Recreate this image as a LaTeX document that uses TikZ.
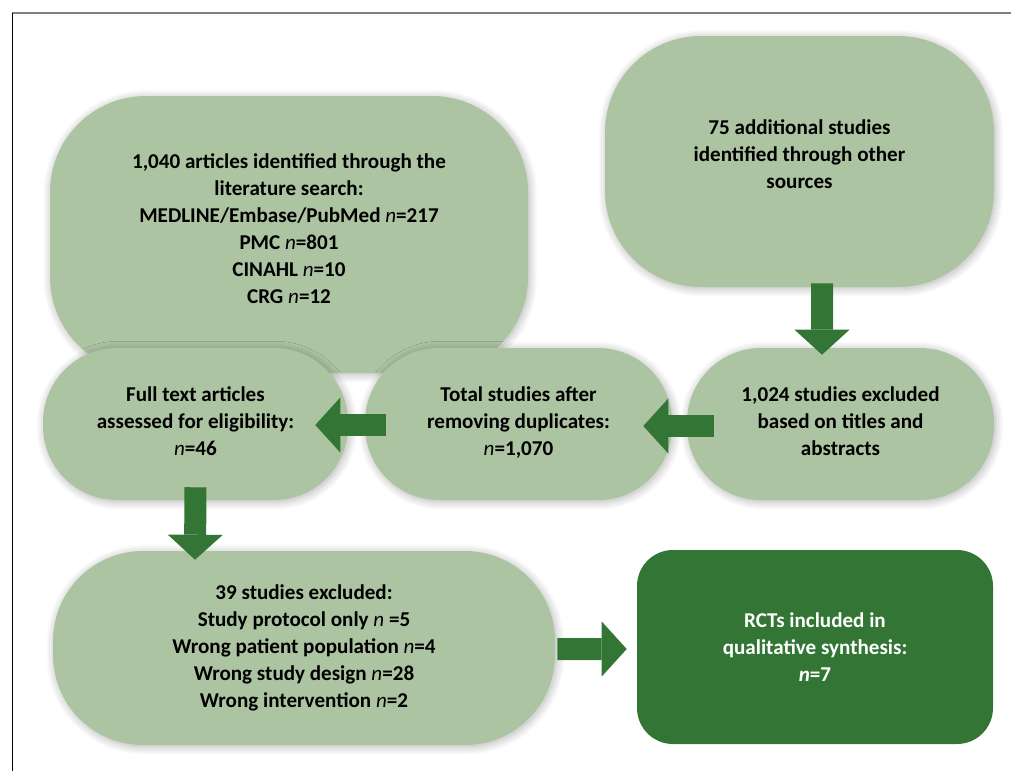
\documentclass[tikz,border=0pt]{standalone}
\usepackage{fontspec}
\setmainfont{Carlito}
\usetikzlibrary{positioning, arrows.meta, shadows.blur}
\definecolor{BoxGreen}{HTML}{ADC4A2}
\definecolor{DeepGreen}{HTML}{327534}
\definecolor{FrameGray}{HTML}{7F7F7F}
\newcommand{\nval}{\textit{\mdseries n}}

\begin{document}
\begin{tikzpicture}[
    flowbox/.style={rectangle, fill=BoxGreen, align=center, inner sep=0pt,
        font=\fontsize{15}{19.2}\selectfont\bfseries,
        blur shadow={shadow xshift=1pt, shadow yshift=-1.2pt, shadow blur radius=6pt,
          shadow blur steps=16, shadow opacity=30}},
    resultbox/.style={rectangle, fill=DeepGreen, text=white, align=center, inner sep=0pt,
        font=\fontsize{15}{19.2}\selectfont\bfseries, rounded corners=0.9cm},
    blockarrow/.style={DeepGreen, line width=0.55cm,
        -{Triangle[width=1.375cm, length=0.625cm, line width=0pt]}}
]
  \useasboundingbox (0,0) rectangle (25.275,-19.275);

  % Frame
  \draw[FrameGray, line width=1.2pt] (0.3,-0.325) -- (25.275,-0.325);
  \draw[black, line width=0.5pt] (0.3,-0.325) -- (0.3,-19.275);

  % Identification
  \node[flowbox, rounded corners=2.4cm, minimum width=11.95cm, minimum height=6.925cm, text depth=0.3cm] (search) at (7.225,-5.8625)
    {1,040 articles identified through the\\ literature search:\\ MEDLINE/Embase/PubMed \nval=217\\ PMC \nval=801\\ CINAHL \nval=10\\ CRG \nval=12};
  \node[flowbox, rounded corners=2.4cm, minimum width=9.725cm, minimum height=6.275cm, text depth=0.35cm] (others) at (19.9875,-4.0375)
    {75 additional studies\\ identified through other\\ sources};

  % Screening row
  \node[flowbox, rounded corners=1.85cm, minimum width=7.625cm, minimum height=3.8cm, text depth=0.15cm] (fulltext) at (4.8875,-10.6)
    {Full text articles\\ assessed for eligibility:\\ \nval=46};
  \node[flowbox, rounded corners=1.85cm, minimum width=7.675cm, minimum height=3.8cm, text depth=0.15cm] (dedup) at (12.9625,-10.6)
    {Total studies after\\ removing duplicates:\\ \nval=1,070};
  \node[flowbox, rounded corners=1.85cm, minimum width=7.675cm, minimum height=3.8cm, text depth=0.15cm] (screen) at (21.0125,-10.6)
    {1,024 studies excluded\\ based on titles and\\ abstracts};

  % Eligibility and inclusion
  \node[flowbox, rounded corners=2.25cm, minimum width=12.55cm, minimum height=4.85cm] (excluded) at (7.6,-16.2)
    {39 studies excluded:\\ Study protocol only \nval{} =5\\ Wrong patient population \nval=4\\ Wrong study design \nval=28\\ Wrong intervention \nval=2};
  \node[resultbox, minimum width=8.9cm, minimum height=4.85cm] (included) at (20.375,-16.175)
    {RCTs included in\\ qualitative synthesis:\\ \textit{n}=7};

  % Block arrows
  \draw[blockarrow] ([shift={(0.5625,0.1)}]others.south) -- ([shift={(-0.4625,-0.175)}]screen.north);
  \draw[blockarrow] ([shift={(0.675,-0.05)}]screen.west) -- ([shift={(-0.725,-0.05)}]dedup.east);
  \draw[blockarrow] ([shift={(0.525,-0.025)}]dedup.west) -- ([shift={(-0.825,-0.025)}]fulltext.east);
  \draw[blockarrow] ([yshift=0.325cm]fulltext.south) -- ([shift={(-2.725,-0.225)}]excluded.north);
  \draw[blockarrow] ([shift={(0.05,-0.025)}]excluded.east) -- ([shift={(-0.25,-0.05)}]included.west);
\end{tikzpicture}
\end{document}
